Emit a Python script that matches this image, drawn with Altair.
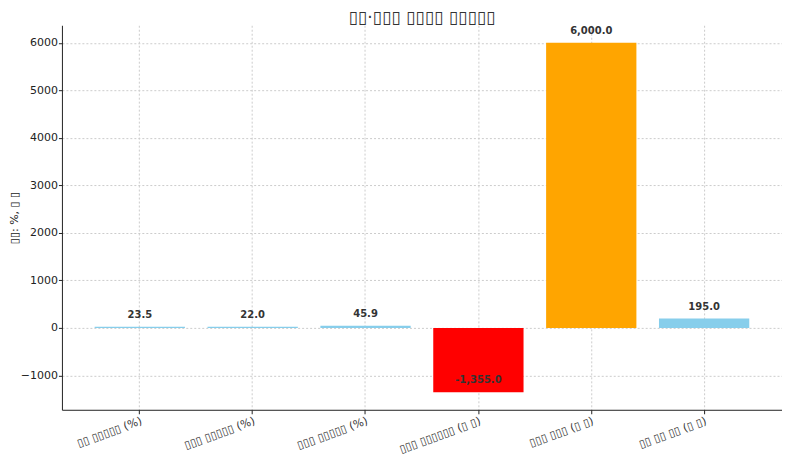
import altair as alt
import pandas as pd

B = "\u25af"
categories = [
    f"{B*2} {B*5} (%)",
    f"{B*3} {B*5} (%)",
    f"{B*3} {B*5} (%)",
    f"{B*3} {B*6} ({B} {B})",
    f"{B*3} {B*3} ({B} {B})",
    f"{B*2} {B*2} {B*2} ({B} {B})",
]
values = [23.5, 22.0, 45.9, -1355.0, 6000.0, 195.0]
colors = ["#87CEEB", "#87CEEB", "#87CEEB", "#FF0000", "#FFA500", "#87CEEB"]
labels = ["23.5", "22.0", "45.9", "-1,355.0", "6,000.0", "195.0"]
title_text = f"{B*2}\u00b7{B*3} {B*4} {B*5}"
ylabel = f"{B*2}: %, {B} {B}"

df = pd.DataFrame({"value": values, "color": colors, "label": labels})
df["cat"] = [f"{i}|{c}" for i, c in enumerate(categories)]

font = "DejaVu Sans"
xenc = alt.X("cat:N", sort=None,
             scale=alt.Scale(paddingInner=0.2, paddingOuter=0.29),
             axis=alt.Axis(title=None, labelAngle=340, labelAlign="right", labelBaseline="top",
                           labelExpr="split(datum.label, '|')[1]",
                           labelFont=font, labelFontSize=11, labelColor="#333",
                           grid=True, gridColor="#cccccc", gridDash=[2, 2],
                           domainColor="#222", tickColor="#222", tickSize=4,
                           labelPadding=1))
yscale = alt.Scale(domain=[-1723, 6368], nice=False, zero=False)

bars = alt.Chart(df).mark_bar().encode(
    x=xenc,
    y=alt.Y("value:Q", scale=yscale,
            axis=alt.Axis(title=ylabel, values=[-1000, 0, 1000, 2000, 3000, 4000, 5000, 6000],
                          format="d",
                          labelFont=font, labelFontSize=11, labelColor="#222",
                          labelPadding=1,
                          titleFont=font, titleFontSize=11, titleFontWeight="normal",
                          titleColor="#222", titlePadding=1,
                          grid=True, gridColor="#cccccc", gridDash=[2, 2],
                          domainColor="#222", tickColor="#222", tickSize=3.5)),
    y2=alt.datum(0),
    color=alt.Color("color:N", scale=None),
)

text = alt.Chart(df).mark_text(font=font, fontSize=10, fontWeight="bold", color="#333",
                               baseline="bottom", dy=-7).encode(
    x=alt.X("cat:N", sort=None),
    y=alt.Y("value:Q", scale=yscale),
    text="label:N",
)

chart = (bars + text).properties(
    width=721, height=385,
    title=alt.TitleParams(title_text, font=font, fontSize=17, fontWeight="normal",
                          color="#333", anchor="middle", offset=0, dy=2),
    autosize=alt.AutoSizeParams(type="none"),
    padding={"left": 54, "top": 17, "right": 0, "bottom": 48},
).configure_view(stroke=None).configure_axis(domainWidth=1)

chart.save("out.html", embed_options={"renderer": "svg", "actions": False})
